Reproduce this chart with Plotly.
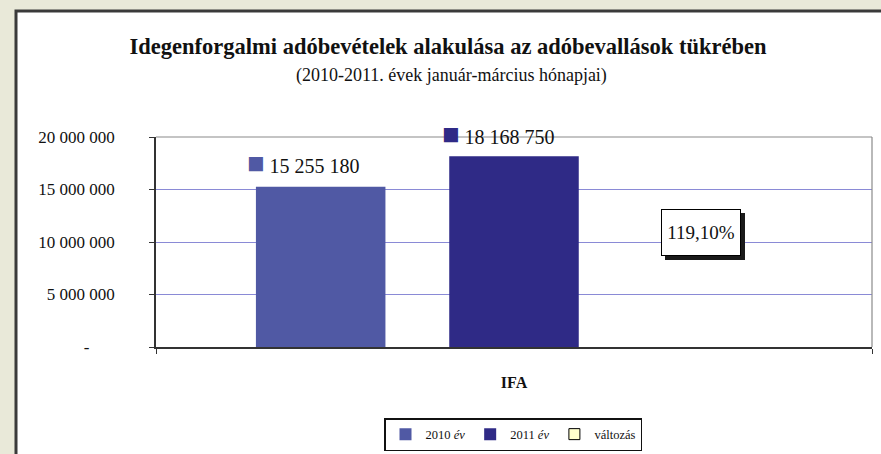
import plotly.graph_objects as go

# ---- data ----
categories = ["IFA"]
series_names = ["2010 <i>év</i>", "2011 <i>év</i>", "változás"]
values_2010 = [15255180]
values_2011 = [18168750]
valtozas_pct = [119.10]
y_tickvals = [0, 5000000, 10000000, 15000000, 20000000]
y_ticktext = ["-\u00a0\u00a0\u00a0\u00a0\u00a0\u00a0", "5 000 000", "10 000 000", "15 000 000", "20 000 000"]

title_text = "Idegenforgalmi adóbevételek alakulása az adóbevallások tükrében"
subtitle_text = "(2010-2011. évek január-március hónapjai)"

c2010 = "#5059a4"
c2011 = "#2f2a86"
cvalt = "#ffffcc"
FONT = "Liberation Serif"


def fmt_num(v):
    return f"{v:,}".replace(",", " ")


def fmt_pct(v):
    return f"{v:.2f}%".replace(".", ",")


def px_x(p):
    return (p - 156) / 716


def px_y(p):
    return (347 - p) / 210


fig = go.Figure()
fig.add_trace(go.Bar(name=series_names[0], x=categories, y=values_2010,
                     marker=dict(color=c2010, line=dict(width=0))))
fig.add_trace(go.Bar(name=series_names[1], x=categories, y=values_2011,
                     marker=dict(color=c2011, line=dict(width=0))))
# the change series: value is tiny on this scale, bar effectively invisible
fig.add_trace(go.Bar(name=series_names[2], x=categories, y=[p / 100 for p in valtozas_pct],
                     marker=dict(color=cvalt, line=dict(width=0)), showlegend=False))
# legend key for the change series (outlined square)
fig.add_trace(go.Scatter(name=series_names[2], x=[None], y=[None], mode="markers",
                         marker=dict(symbol="square", size=11, color=cvalt,
                                     line=dict(color="#000", width=1))))

annotations = []
# value labels with legend keys
slot = 0.271 * 716
for i, (vals, col, ys) in enumerate([(values_2010, c2010, 24), (values_2011, c2011, 22)]):
    annotations.append(dict(
        x=categories[0], y=vals[0], xref="x", yref="y",
        xshift=(i - 1) * slot - 16, yshift=ys,
        text=f"<span style='color:{col};font-size:29px'>■</span>\u00a0{fmt_num(vals[0])}",
        showarrow=False, font=dict(family=FONT, size=20, color="#111"),
        xanchor="center", yanchor="middle",
    ))

# percentage label (box with shadow)
pct = fmt_pct(valtozas_pct[0])
annotations.append(dict(
    x=px_x(701), y=px_y(232.5), xref="paper", yref="paper",
    xanchor="center", yanchor="middle",
    text=pct, showarrow=False, width=78, height=45,
    font=dict(family=FONT, size=19, color="#111"),
    bgcolor="#ffffff", bordercolor="#000000", borderwidth=1, borderpad=0,
))

annotations.append(dict(
    x=px_x(451), y=px_y(76), xref="paper", yref="paper",
    xanchor="center", yanchor="middle",
    text=subtitle_text, showarrow=False,
    font=dict(family=FONT, size=18, color="#111"),
))

shapes = [
    # white panel
    dict(type="rect", xref="paper", yref="paper",
         x0=px_x(16), x1=px_x(900), y0=px_y(470), y1=px_y(11),
         fillcolor="#ffffff", line=dict(color="#3a3a3a", width=3), layer="below"),
    # top & right plot-area border
    dict(type="line", xref="paper", yref="paper", x0=0, x1=1, y0=1, y1=1,
         line=dict(color="#8a8a8a", width=1.2), layer="above"),
    dict(type="line", xref="paper", yref="paper", x0=1, x1=1, y0=0, y1=1,
         line=dict(color="#8a8a8a", width=1.2), layer="above"),
    # drop shadow of the percentage box
    dict(type="rect", xref="paper", yref="paper",
         x0=px_x(665), x1=px_x(745), y0=px_y(260), y1=px_y(213),
         fillcolor="#1a1a1a", line=dict(width=0), layer="above"),
]

fig.update_layout(
    width=881, height=454,
    margin=dict(l=156, r=9, t=137, b=107, autoexpand=False),
    paper_bgcolor="#e9e9d9", plot_bgcolor="#ffffff",
    barmode="group", bargap=0.19, bargroupgap=0.33,
    title=dict(text=f"<b>{title_text}</b>", x=448 / 881, xanchor="center",
               y=1 - 46 / 454, yanchor="middle", yref="container",
               font=dict(family=FONT, size=22.5, color="#111")),
    font=dict(family=FONT, color="#111"),
    showlegend=True,
    legend=dict(orientation="h", x=px_x(513), xanchor="center",
                y=px_y(418), yanchor="top",
                bordercolor="#111", borderwidth=1.5, bgcolor="#ffffff",
                font=dict(family=FONT, size=12.5, color="#111"),
                itemwidth=30, traceorder="normal", tracegroupgap=0),
    xaxis=dict(showline=True, linecolor="#333", linewidth=1.5, automargin=False,
               ticks="outside", ticklen=5, tickcolor="#333", tickson="boundaries",
               tickfont=dict(family=FONT, size=16, color="#111"),
               ticklabelstandoff=20, tickprefix="<b>", ticksuffix="</b>"),
    yaxis=dict(range=[0, 20000000], tickvals=y_tickvals, ticktext=y_ticktext,
               showline=True, linecolor="#333", linewidth=1.5, automargin=False,
               ticks="outside", ticklen=5, tickcolor="#333",
               showgrid=True, gridcolor="#8a8ad6", gridwidth=1.3,
               zeroline=False,
               tickfont=dict(family=FONT, size=17, color="#111"),
               ticklabelstandoff=31),
    annotations=annotations,
    shapes=shapes,
)

fig.write_html("out.html", config={"displayModeBar": False},
               post_script="document.body.style.margin='0px';")
